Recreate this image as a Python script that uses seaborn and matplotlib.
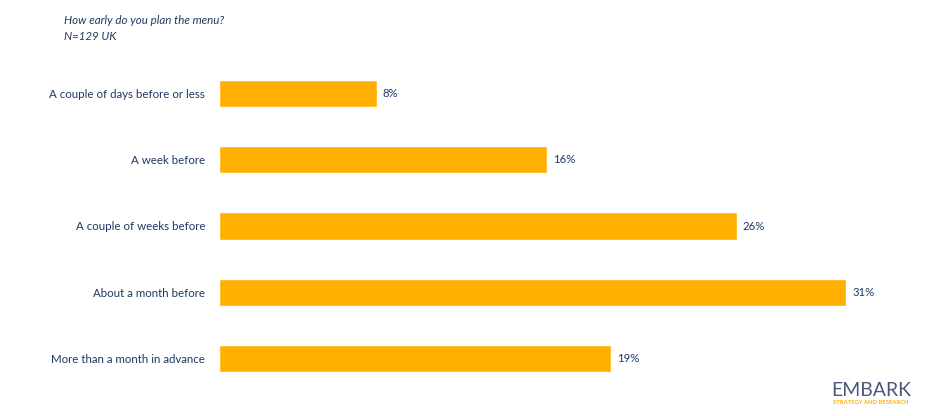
import pandas as pd
import seaborn as sns
import matplotlib.pyplot as plt

# Answers and shares (% of respondents)
answers = ['A couple of days before or less', 'A week before', 'A couple of weeks before',
           'About a month before', 'More than a month in advance']
shares = [7.8, 16.2, 25.6, 31.0, 19.4]
labels = ['8%', '16%', '26%', '31%', '19%']

df = pd.DataFrame({'answer': answers, 'share': shares})

navy = '#1F3864'
orange = '#FFB000'

sns.set_theme(style='white')
plt.rcParams['font.family'] = ['Lato', 'DejaVu Sans']

fig = plt.figure(figsize=(9.39, 4.16), dpi=100)
ax = fig.add_axes([219 / 939, 24 / 416, 708 / 939, 332 / 416])

sns.barplot(data=df, x='share', y='answer', color=orange, saturation=1,
            width=0.41, ax=ax)

for i, (v, lab) in enumerate(zip(shares, labels)):
    ax.text(v + 0.3, i, lab, va='center', ha='left', fontsize=8.2, color=navy)

ax.set_xlim(0, 35)
ax.set_ylim(4.5, -0.5)
ax.set_xlabel('')
ax.set_ylabel('')
ax.set_xticks([])
ax.tick_params(axis='y', length=0, pad=10, labelsize=8.3, labelcolor=navy)
sns.despine(ax=ax, left=True, bottom=True)

fig.text(64 / 939, 1 - 20 / 416, 'How early do you plan the menu?', fontsize=8.3,
         style='italic', color=navy, va='center')
fig.text(64 / 939, 1 - 37 / 416, 'N=129 UK', fontsize=8.3,
         style='italic', color=navy, va='center')

# Logo
fig.text(871 / 939, 1 - 390 / 416, 'EMBARK', fontsize=14, color='#4a5a78',
         ha='center', va='center')
fig.text(871 / 939, 1 - 403 / 416, 'STRATEGY AND RESEARCH', fontsize=4.2,
         color=orange, ha='center', va='center', fontweight='bold')

plt.savefig('out.png', dpi=100)
